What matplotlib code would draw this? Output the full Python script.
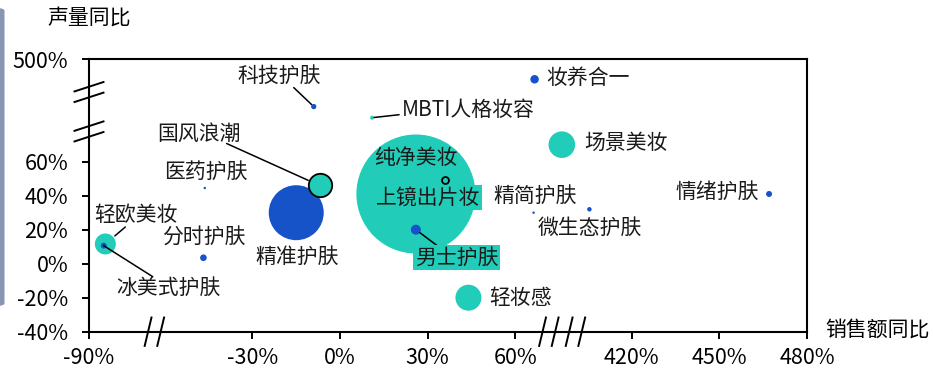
import numpy as np
import matplotlib
matplotlib.use("Agg")
import matplotlib.pyplot as plt
from matplotlib.patches import FancyBboxPatch
from matplotlib.lines import Line2D
from matplotlib.transforms import IdentityTransform

plt.rcParams['font.family'] = ['Noto Sans CJK SC', 'DejaVu Sans']

# ---------------- data ----------------
names = ['妆养合一', '科技护肤', 'MBTI人格妆容', '场景美妆', '国风浪潮', '医药护肤',
         '纯净美妆', '上镜出片妆', '男士护肤', '精简护肤', '微生态护肤', '情绪护肤',
         '精准护肤', '分时护肤', '轻欧美妆', '冰美式护肤', '轻妆感']
sales_yoy = [120, -9, 11, 204, -7, -47.5, 36, 26, 26, 117, 289, 467,
             -15, -48, -84, -84.6, 44]
volume_yoy = [376, 209, 141, 70, 46, 44.5, 49, 41, 20, 30, 32, 41,
              30, 3.5, 11.6, 10.6, -20]
bubble_size = [18, 7, 4, 177, 137, 1.5, 12, 3540, 25, 1.5, 5, 9,
               756, 11, 110, 9, 169]
category = ['护肤', '护肤', '彩妆', '彩妆', '彩妆', '护肤',
            '彩妆', '彩妆', '护肤', '护肤', '护肤', '护肤',
            '护肤', '护肤', '彩妆', '护肤', '彩妆']

x_ticks = [-90, -30, 0, 30, 60, 420, 450, 480]
x_ticklabels = ['-90%', '-30%', '0%', '30%', '60%', '420%', '450%', '480%']
y_ticks = [-40, -20, 0, 20, 40, 60, 500]
y_ticklabels = ['-40%', '-20%', '0%', '20%', '40%', '60%', '500%']
x_title = '销售额同比'
y_title = '声量同比'

# ---------------- style ----------------
TEAL = '#21CDB9'
BLUE = '#1652C8'
colors = {'彩妆': TEAL, '护肤': BLUE}
outlined = {'国风浪潮', '纯净美妆'}
boxed = {'上镜出片妆', '男士护肤'}
FS = 15

# label placement: (ha, dx px, dy px) relative to bubble center
label_pos = {
    '妆养合一': ('left', 12, 1),
    '科技护肤': ('center', -35, 31),
    'MBTI人格妆容': ('left', 30, 8),
    '场景美妆': ('left', 22, 2),
    '国风浪潮': ('center', -121, 52),
    '医药护肤': ('center', 1, 16),
    '纯净美妆': ('center', -29, 22),
    '上镜出片妆': ('center', 12, -3.5),
    '男士护肤': ('center', 41, -28),
    '精简护肤': ('center', 1, 17),
    '微生态护肤': ('center', 0, -18.5),
    '情绪护肤': ('right', -10.5, 2),
    '精准护肤': ('center', 1, -44),
    '分时护肤': ('center', 0, 20),
    '轻欧美妆': ('center', 31, 29),
    '冰美式护肤': ('center', 65, -42),
    '轻妆感': ('left', 21, 0),
}
# leader lines: (start dx px, start dy px, gap at bubble end px)
leaders = {
    '科技护肤': (-20, 19, 3),
    'MBTI人格妆容': (27, 3, 2),
    '国风浪潮': (-93, 42, 12.5),
    '男士护肤': (24, -18, 5),
    '轻欧美妆': (20, 17, 12.5),
    '冰美式护肤': (49, -31, 0),
}

# piecewise (broken) axes
x_real = [-90, -30, 60, 420, 480]
x_pos = [-86, -30, 60, 100, 160]
y_real = [-40, 80, 500]
y_pos = [-40, 80, 120.4]

def fx(v): return np.interp(v, x_real, x_pos)
def ix(v): return np.interp(v, x_pos, x_real)
def fy(v): return np.interp(v, y_real, y_pos)
def iy(v): return np.interp(v, y_pos, y_real)

W, H, DPI = 933, 371, 100
fig = plt.figure(figsize=(W / DPI, H / DPI), dpi=DPI)
L, R, T, B = 89, 807, 59, 331.7
ax = fig.add_axes([L / W, 1 - B / H, (R - L) / W, (B - T) / H])
ax.set_xscale('function', functions=(fx, ix))
ax.set_yscale('function', functions=(fy, iy))
ax.set_xlim(-90, 480)
ax.set_ylim(-40, 500)

PX = 72 / DPI  # points per pixel
order = np.argsort(bubble_size)[::-1]
for z, i in enumerate(order):
    r_px = np.sqrt(bubble_size[i])
    s = (2 * r_px * PX) ** 2
    ec = 'black' if names[i] in outlined else 'none'
    ax.scatter([sales_yoy[i]], [volume_yoy[i]], s=s, c=colors[category[i]],
               edgecolors=ec, linewidths=1.3, zorder=2 + z * 0.01,
               clip_on=False)

for i, n in enumerate(names):
    ha, dx, dy = label_pos[n]
    bbox = None
    if n in boxed:
        bbox = dict(boxstyle='square,pad=0.08', fc=TEAL, ec='none')
    ax.annotate(n, xy=(sales_yoy[i], volume_yoy[i]), xytext=(dx, dy),
                textcoords='offset pixels', ha=ha, va='center',
                fontsize=FS, color='#1a1a1a', bbox=bbox, zorder=5)
    if n in leaders:
        sx, sy, gap = leaders[n]
        ax.annotate('', xy=(sales_yoy[i], volume_yoy[i]), xytext=(sx, sy),
                    textcoords='offset pixels',
                    arrowprops=dict(arrowstyle='-', color='black', lw=1.1,
                                    shrinkA=0, shrinkB=gap * PX),
                    zorder=4)

ax.set_xticks(x_ticks)
ax.set_xticklabels(x_ticklabels)
ax.set_yticks(y_ticks)
ax.set_yticklabels(y_ticklabels)
ax.minorticks_off()
ax.tick_params(axis='both', direction='out', length=5, width=1.4,
               labelsize=15.5, colors='black')
ax.tick_params(axis='x', pad=6)
ax.tick_params(axis='y', pad=10)
for sp in ax.spines.values():
    sp.set_linewidth(1.5)
    sp.set_color('black')

ax.annotate(y_title, xy=(0, 1), xycoords='axes fraction', xytext=(-42, 41),
            textcoords='offset pixels', ha='left', va='center', fontsize=FS)
ax.annotate(x_title, xy=(1, 0), xycoords='axes fraction', xytext=(18, 2),
            textcoords='offset pixels', ha='left', va='center', fontsize=FS)

# axis break markers
def slash(x0, y0, x1, y1):
    fig.add_artist(Line2D([x0, x1], [y0, y1], color='black', lw=1.4,
                          transform=IdentityTransform()))

xt = ax.get_xaxis_transform()
for xb in [-66, 164, 246]:
    cx, cy = xt.transform((xb, 0))
    for off in (-6.3, 6.3):
        slash(cx + off - 3.4, cy - 14.2, cx + off + 3.4, cy + 14.2)
yt = ax.get_yaxis_transform()
for yb in [77.8, 298]:
    cx, cy = yt.transform((0, yb))
    for off in (-5.3, 5.3):
        slash(cx - 14.5, cy + off - 4.7, cx + 14.5, cy + off + 4.7)

# decorative bar on the left edge
fig.add_artist(FancyBboxPatch((-6 / W, 1 - 306 / H), 10.5 / W, 298 / H,
                              boxstyle='round,pad=0,rounding_size=0.008',
                              transform=fig.transFigure, fc='#8797B3',
                              ec='none'))

fig.savefig('out.png', dpi=DPI)
